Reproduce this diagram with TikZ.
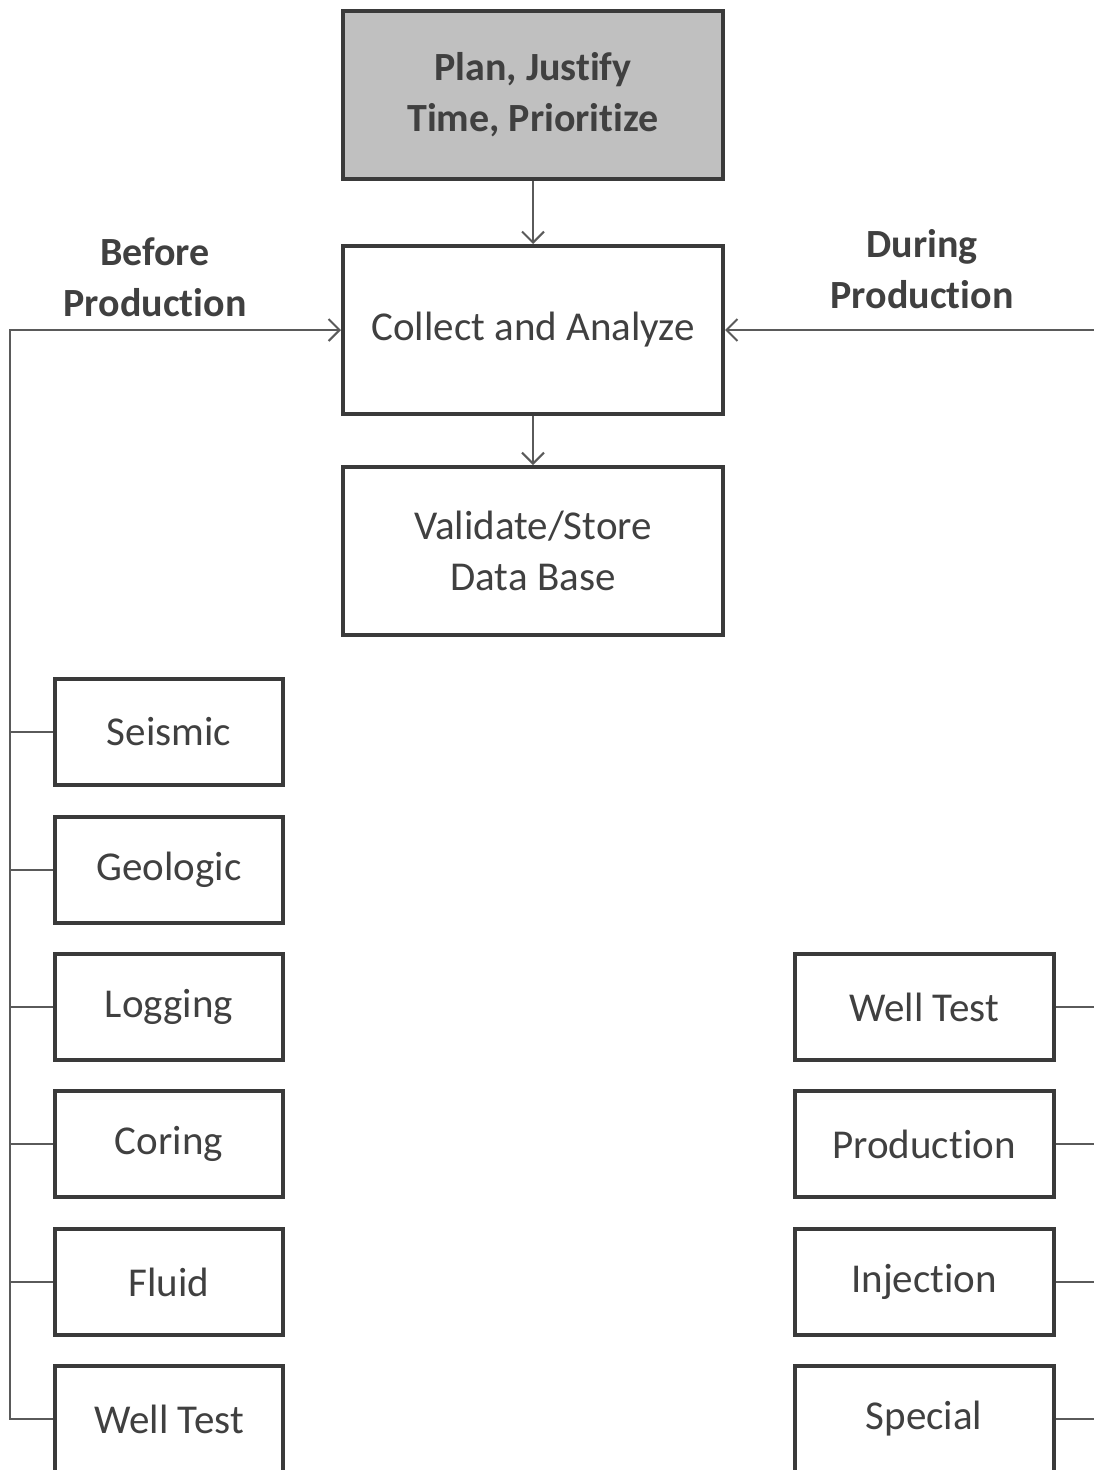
\documentclass[tikz,border=0pt]{standalone}
\usepackage{fontspec}
\setmainfont[Ligatures=NoCommon]{Carlito}
\usetikzlibrary{arrows.meta}
\definecolor{boxline}{HTML}{3A3A3A}
\definecolor{wire}{HTML}{5A5A5A}
\definecolor{ink}{HTML}{404040}
\definecolor{planfill}{HTML}{C0C0C0}
\tikzset{
  box/.style={draw=boxline, line width=4pt, text=ink, align=center,
    font=\fontsize{41}{51}\selectfont},
  bigbox/.style={box, minimum width=380pt, minimum height=168pt},
  leftbox/.style={box, minimum width=228pt, minimum height=106pt},
  rightbox/.style={box, minimum width=259pt, minimum height=106pt},
  phase/.style={text=ink, align=center, font=\fontsize{40}{51}\selectfont\bfseries},
  wire/.style={draw=wire, line width=2pt},
  tip/.style={-{Straight Barb[length=11pt,width=22pt,line width=2pt]}}
}
\begin{document}
\begin{tikzpicture}[x=1pt,y=-1pt]
\useasboundingbox (0,0) rectangle (1093,1470);
\fill[white] (0,0) rectangle (1093,1470);

\node[bigbox, fill=planfill, font=\fontsize{40}{51}\selectfont\bfseries] (plan) at (533,95) {Plan, Justify\\Time, Prioritize};
\node[bigbox] (collect) at (533,330) {Collect and Analyze};
\node[bigbox] (store) at (533,551) {Validate/Store\\Data Base};

\node[phase] (before) at (155,277) {Before\\Production};
\node[phase] (during) at (922,269) {During\\Production};

% before production
\node[leftbox] (seismic) at (169,732) {Seismic};
\node[leftbox] (geologic) at (169,870) {Geologic};
\node[leftbox] (logging) at (169,1007) {Logging};
\node[leftbox] (coring) at (169,1144) {Coring};
\node[leftbox] (fluid) at (169,1282) {Fluid};
\node[leftbox] (welltestb) at (169,1419) {Well Test};

% during production
\node[rightbox] (welltestd) at (924,1007) {Well Test};
\node[rightbox] (production) at (924,1144) {Production};
\node[rightbox] (injection) at (924,1282) {Injection};
\node[rightbox] (special) at (924,1419) {Special};

\coordinate (ltop) at (10,330);
\coordinate (rtop) at (1100,330);

\draw[wire, tip] (plan) -- (collect);
\draw[wire, tip] (collect) -- (store);

\draw[wire, tip] (welltestb.west) -| (ltop) -- (collect.west);
\foreach \n in {seismic,geologic,logging,coring,fluid}
  \draw[wire] (\n.west) -- (\n.west -| ltop);

\draw[wire, tip] (special.east) -| (rtop) -- (collect.east);
\foreach \n in {welltestd,production,injection}
  \draw[wire] (\n.east) -- (\n.east -| rtop);
\end{tikzpicture}
\end{document}
